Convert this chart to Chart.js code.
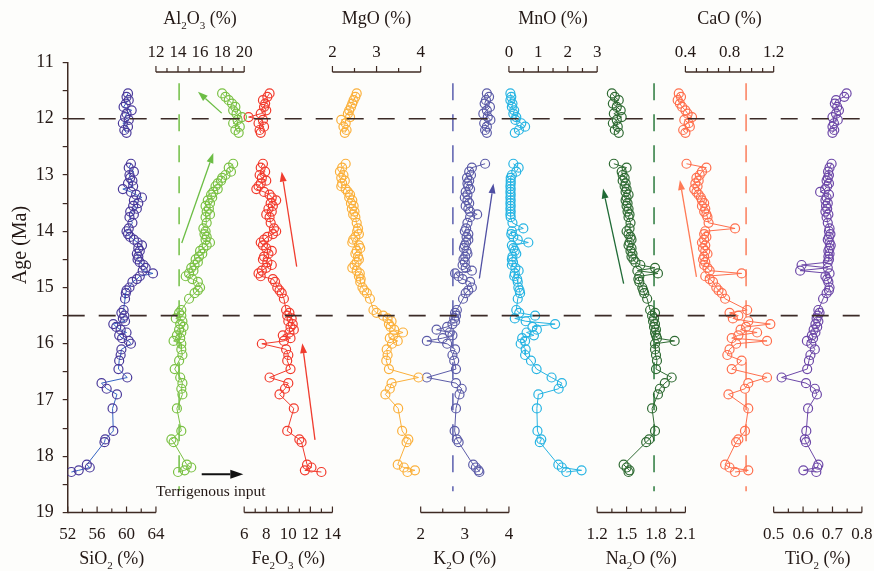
<!DOCTYPE html>
<html><head><meta charset="utf-8">
<script src="https://cdn.jsdelivr.net/npm/chart.js@4.4.1/dist/chart.umd.min.js"></script>
<style>html,body{margin:0;padding:0;background:#fdfdfb;}canvas{display:block;}</style>
</head><body>
<canvas id="c" width="874" height="571"></canvas>
<script>
// ---------- data ----------
const ageUpper = [11.55,11.61,11.67,11.73,11.79,11.85,11.91,11.97,12.02,12.08,12.14,12.20,12.25];
const ageLower = [12.80,12.87,12.94,13.00,13.05,13.10,13.15,13.20,13.25,13.30,
 13.35,13.40,13.45,13.50,13.55,13.60,13.65,13.70,13.75,13.85,
 13.95,14.00,14.05,14.10,14.15,14.20,14.25,14.30,14.35,14.40,
 14.45,14.50,14.55,14.60,14.65,14.70,14.75,14.80,14.85,14.90,
 15.00,15.05,15.10,15.20,15.40,15.45,15.50,15.55,15.60,15.65,
 15.70,15.75,15.80,15.85,15.90,15.95,16.00,16.10,16.20,16.30,
 16.45,16.60,16.70,16.80,16.90,17.15,17.55,17.70,17.75,18.15,
 18.20,18.25,18.28];

const sio2Upper = [60.2,60.0,60.3,59.9,59.6,60.7,60.0,59.8,60.3,59.5,60.2,59.7,60.0];
const sio2Lower = [60.6,60.3,61.0,60.4,60.5,60.8,60.2,60.9,59.5,60.6,
 61.3,62.1,61.0,61.6,60.9,61.4,60.5,61.0,60.4,60.8,
 60.3,60.0,60.2,60.5,61.0,61.5,62.1,61.6,61.8,61.4,
 61.6,61.5,61.8,62.3,62.6,62.2,63.6,61.8,61.4,60.8,
 60.4,60.0,59.9,59.8,59.6,59.3,59.7,59.5,59.8,58.2,
 58.6,59.2,60.0,59.0,59.4,60.3,60.6,59.3,59.2,59.0,
 58.9,60.1,56.6,57.3,58.7,58.1,58.2,57.1,57.0,54.6,
 55.0,53.5,52.5];

const al2o3Upper = [18.0,18.3,18.6,18.9,19.2,19.0,19.3,19.8,19.4,19.0,19.6,19.2,19.5];
const al2o3Lower = [19.0,18.6,18.8,18.3,18.0,17.9,17.6,17.4,17.6,17.2,
 17.0,17.1,16.7,16.9,16.5,16.8,16.6,16.9,16.5,16.6,
 16.3,16.5,16.4,16.6,16.5,16.9,16.6,16.3,16.0,16.2,
 15.9,15.6,15.8,15.5,15.2,15.4,15.0,14.7,15.3,15.8,
 16.0,15.8,15.5,15.0,14.3,14.1,14.3,13.8,14.4,14.2,
 14.5,14.1,14.3,13.9,14.2,13.6,14.3,14.3,14.4,14.1,
 13.7,14.2,14.4,14.3,14.4,13.9,14.3,13.4,13.6,14.8,
 15.2,14.6,14.0];

const fe2o3Upper = [8.3,8.1,7.7,7.9,7.8,8.0,7.5,6.4,7.7,7.3,7.8,7.4,7.5];
const fe2o3Lower = [7.7,7.5,7.9,7.4,7.6,8.0,7.5,7.3,7.1,7.8,
 8.3,8.5,8.9,8.4,8.6,8.2,8.5,8.0,8.3,8.4,
 8.7,8.9,8.6,8.1,7.8,7.5,7.7,8.0,8.5,8.2,
 7.8,7.7,8.1,8.5,8.0,7.6,7.3,7.5,8.6,8.8,
 9.0,9.2,9.4,9.6,9.8,10.1,9.9,10.3,10.0,10.4,
 10.2,10.5,10.1,9.5,10.2,9.6,7.6,9.8,10.0,9.9,
 10.2,8.3,10.0,9.7,9.2,10.5,9.9,11.0,11.2,11.7,
 12.1,11.5,13.0];

const mgoUpper = [2.55,2.52,2.48,2.45,2.42,2.38,2.35,2.40,2.20,2.30,2.25,2.32,2.28];
const mgoLower = [2.30,2.22,2.17,2.25,2.20,2.28,2.22,2.20,2.30,2.35,
 2.40,2.38,2.45,2.42,2.48,2.44,2.50,2.47,2.52,2.55,
 2.58,2.56,2.60,2.52,2.47,2.45,2.60,2.63,2.55,2.52,
 2.58,2.60,2.55,2.50,2.45,2.55,2.62,2.60,2.64,2.63,
 2.68,2.72,2.78,2.85,2.93,3.00,3.15,3.25,3.34,3.28,
 3.32,3.40,3.60,3.38,3.30,3.48,3.35,3.23,3.25,3.22,
 3.28,3.95,3.34,3.30,3.20,3.49,3.58,3.72,3.68,3.48,
 3.62,3.87,3.70];

const k2oUpper = [3.50,3.55,3.48,3.45,3.57,3.50,3.42,3.52,3.58,3.44,3.50,3.46,3.50];
const k2oLower = [3.46,3.16,3.10,3.14,3.05,3.10,3.06,3.08,3.12,3.02,
 3.06,3.00,3.06,3.10,3.02,3.08,3.12,3.28,3.12,3.06,
 3.03,3.00,3.08,3.04,3.08,3.03,3.00,2.98,3.04,3.06,
 3.01,2.97,3.00,2.95,3.02,3.16,2.78,2.86,2.95,3.12,
 3.16,3.08,3.02,2.96,2.82,2.78,2.80,2.76,2.78,2.72,
 2.60,2.36,2.66,2.72,2.50,2.14,2.60,2.78,2.72,2.76,
 2.80,2.14,2.80,2.93,2.88,2.80,2.77,2.82,2.86,3.19,
 3.25,3.31,3.33];

const mnoUpper = [0.05,0.08,0.05,0.12,0.10,0.18,0.15,0.25,0.22,0.42,0.55,0.34,0.20];
const mnoLower = [0.15,0.33,0.25,0.10,0.06,0.06,0.06,0.05,0.06,0.05,
 0.06,0.05,0.06,0.05,0.06,0.05,0.06,0.05,0.06,0.12,
 0.49,0.10,0.08,0.15,0.30,0.66,0.10,0.15,0.20,0.25,
 0.12,0.10,0.14,0.10,0.22,0.33,0.20,0.18,0.28,0.30,
 0.32,0.36,0.38,0.30,0.25,0.35,0.89,0.20,0.57,1.57,
 0.80,0.95,0.60,0.85,0.45,0.55,0.40,0.57,0.55,0.75,
 0.94,1.45,1.80,1.69,1.00,0.95,0.97,1.10,1.05,1.68,
 1.80,2.47,1.95];

const na2oUpper = [1.35,1.38,1.42,1.36,1.40,1.44,1.37,1.45,1.40,1.36,1.41,1.38,1.42];
const na2oLower = [1.37,1.50,1.45,1.46,1.48,1.46,1.49,1.48,1.50,1.49,
 1.52,1.50,1.49,1.51,1.50,1.52,1.51,1.53,1.52,1.54,
 1.53,1.50,1.52,1.54,1.55,1.53,1.52,1.55,1.54,1.56,
 1.55,1.57,1.59,1.64,1.79,1.61,1.82,1.63,1.62,1.63,
 1.66,1.67,1.68,1.71,1.74,1.79,1.76,1.78,1.77,1.79,
 1.78,1.80,1.79,1.80,1.81,1.99,1.79,1.79,1.80,1.81,
 1.80,1.96,1.89,1.84,1.82,1.76,1.79,1.73,1.70,1.47,
 1.50,1.53,1.52];

const caoUpper = [0.34,0.36,0.33,0.35,0.37,0.40,0.42,0.46,0.39,0.43,0.44,0.38,0.40];
const caoLower = [0.41,0.59,0.55,0.53,0.50,0.52,0.49,0.51,0.48,0.50,
 0.52,0.54,0.55,0.57,0.55,0.58,0.57,0.59,0.60,0.61,
 0.85,0.58,0.57,0.59,0.57,0.55,0.58,0.56,0.58,0.60,
 0.57,0.56,0.58,0.57,0.60,0.62,0.91,0.58,0.62,0.65,
 0.68,0.70,0.73,0.76,0.96,0.80,0.88,0.83,0.97,1.17,
 0.95,0.90,1.05,0.88,0.82,1.14,0.86,0.80,0.78,0.91,
 0.82,1.14,0.97,0.94,0.79,0.97,0.94,0.88,0.86,0.76,
 0.80,0.97,0.85];

const tio2Upper = [0.748,0.740,0.712,0.708,0.716,0.722,0.712,0.700,0.718,0.705,0.700,0.706,0.700];
const tio2Lower = [0.697,0.690,0.685,0.688,0.684,0.680,0.688,0.682,0.675,0.658,
 0.688,0.680,0.676,0.684,0.678,0.682,0.676,0.686,0.680,0.684,
 0.690,0.688,0.693,0.688,0.684,0.690,0.694,0.690,0.686,0.690,
 0.686,0.688,0.684,0.595,0.684,0.590,0.690,0.676,0.682,0.686,
 0.690,0.688,0.680,0.668,0.652,0.656,0.650,0.646,0.652,0.642,
 0.648,0.636,0.642,0.630,0.634,0.613,0.628,0.640,0.625,0.620,
 0.614,0.527,0.610,0.640,0.647,0.617,0.611,0.606,0.610,0.652,
 0.648,0.601,0.645];

// tick labels of each oxide axis
const sio2Ticks = [52,56,60,64];
const al2o3Ticks = [12,14,16,18,20];
const fe2o3Ticks = [6,8,10,12,14];
const mgoTicks = [2,3,4];
const k2oTicks = [2,3,4];
const mnoTicks = [0,1,2,3];
const na2oTicks = [1.2,1.5,1.8,2.1];
const caoTicks = [0.4,0.8,1.2];
const tio2Ticks = [0.5,0.6,0.7,0.8];
const ageTicks = [11,12,13,14,15,16,17,18,19];

// boundaries (Ma) and reference values
const boundaryAges = [12, 15.5];
const refLines = [['al2o3',14.1],['k2o',2.73],['na2o',1.78],['cao',0.95]];
const trendArrows = [
  ['al2o3',17.96,11.90,15.81,11.52],
  ['al2o3',14.34,14.21,17.20,12.61],
  ['fe2o3',10.76,14.63,9.40,12.94],
  ['fe2o3',12.42,17.71,11.27,15.99],
  ['k2o',3.33,14.84,3.65,13.15],
  ['na2o',1.47,14.93,1.26,13.24],
  ['cao',0.50,14.81,0.35,13.09]
];
const inputArrow = ['al2o3',16.15,18.32,19.92,18.32];
const inputLabel = ['al2o3',16.97,18.64,'Terrigenous input'];

// ---------- panel configuration ----------
const panels = [
  {key:'sio2', title:'SiO2 (%)', up:sio2Upper, low:sio2Lower, ticks:sio2Ticks, lo:52, hi:64, minor:2, side:'bottom', color:'#4a3a9b', line:'#3564c4'},
  {key:'al2o3', title:'Al2O3 (%)', up:al2o3Upper, low:al2o3Lower, ticks:al2o3Ticks, lo:12, hi:20, minor:1, side:'top', color:'#7ac143'},
  {key:'fe2o3', title:'Fe2O3 (%)', up:fe2o3Upper, low:fe2o3Lower, ticks:fe2o3Ticks, lo:6, hi:14, minor:1, side:'bottom', color:'#f23a2c'},
  {key:'mgo', title:'MgO (%)', up:mgoUpper, low:mgoLower, ticks:mgoTicks, lo:2, hi:4, minor:0.5, side:'top', color:'#fbb03b'},
  {key:'k2o', title:'K2O (%)', up:k2oUpper, low:k2oLower, ticks:k2oTicks, lo:2, hi:4, minor:0.5, side:'bottom', color:'#5c5ca8'},
  {key:'mno', title:'MnO (%)', up:mnoUpper, low:mnoLower, ticks:mnoTicks, lo:0, hi:3, minor:0.5, side:'top', color:'#27b4e3'},
  {key:'na2o', title:'Na2O (%)', up:na2oUpper, low:na2oLower, ticks:na2oTicks, lo:1.2, hi:2.1, minor:0.15, side:'bottom', color:'#2f6b33'},
  {key:'cao', title:'CaO (%)', up:caoUpper, low:caoLower, ticks:caoTicks, lo:0.4, hi:1.2, minor:0.1, side:'top', color:'#ff6f4d'},
  {key:'tio2', title:'TiO2 (%)', up:tio2Upper, low:tio2Lower, ticks:tio2Ticks, lo:0.5, hi:0.8, minor:0.05, side:'bottom', color:'#6d48a8'}
];
const refColors = {al2o3:'#72bf44', k2o:'#5b5fae', na2o:'#2b7a3d', cao:'#fb7d5b'};
const arrowColors = {al2o3:'#6cbd45', fe2o3:'#f03c2e', k2o:'#4f4fa3', na2o:'#1f6a35', cao:'#ff7a55'};
const INK = '#231815', AXIS = '#3e2a23', SERIF = "'Liberation Serif','Times New Roman',serif";
const N = panels.length;

const scales = {
  y: {
    type:'linear', position:'left', reverse:true, min:11, max:19,
    afterFit: s => { s.width = 67.7; },
    ticks:{ stepSize:0.5, autoSkip:false, padding:9, color:INK, font:{family:SERIF, size:18},
      callback: v => ageTicks.includes(v) ? String(v) : '' },
    grid:{ drawOnChartArea:false, drawTicks:true, tickLength:5, color:AXIS, lineWidth:1.2 },
    border:{ display:true, color:AXIS, width:1.5 }
  }
};
panels.forEach((p,k) => {
  const w = p.hi - p.lo;
  scales['x'+k] = { type:'linear', display:false, bounds:'data', min:p.lo - k*w, max:p.hi + (N-1-k)*w };
});

const datasets = panels.map((p,k) => ({
  label: p.title,
  xAxisID: 'x'+k, yAxisID: 'y',
  data: [...p.up.map((v,i)=>({x:v, y:ageUpper[i]})), {x:null, y:null}, ...p.low.map((v,i)=>({x:v, y:ageLower[i]}))],
  showLine: true, spanGaps: false, fill: false, tension: 0,
  borderColor: p.line || p.color, borderWidth: 1,
  pointStyle: 'circle', pointRadius: 4.5, pointBorderWidth: 1.2,
  pointBorderColor: p.color, pointBackgroundColor: 'rgba(0,0,0,0)', backgroundColor: 'rgba(0,0,0,0)'
}));

function scaleOf(chart, key){ return chart.scales['x' + panels.findIndex(p => p.key === key)]; }

function drawFormula(ctx, text, cx, baseline, size){
  const segs = []; let inF = true;
  for (const ch of text){
    if (ch === ' ') inF = false;
    const sub = inF && /[0-9]/.test(ch);
    if (segs.length && segs[segs.length-1].sub === sub) segs[segs.length-1].t += ch;
    else segs.push({t:ch, sub});
  }
  const fnt = s => (s ? Math.round(size*0.62) : size) + 'px ' + SERIF;
  let total = 0;
  segs.forEach(s => { ctx.font = fnt(s.sub); s.w = ctx.measureText(s.t).width; total += s.w; });
  let x = cx - total/2;
  ctx.textAlign = 'left'; ctx.textBaseline = 'alphabetic';
  segs.forEach(s => { ctx.font = fnt(s.sub); ctx.fillText(s.t, x, baseline + (s.sub ? size*0.28 : 0)); x += s.w; });
}

function arrow(ctx, x1, y1, x2, y2, color, lw, hl, hw){
  const a = Math.atan2(y2-y1, x2-x1);
  const bx = x2 - hl*Math.cos(a), by = y2 - hl*Math.sin(a);
  ctx.save(); ctx.strokeStyle = color; ctx.fillStyle = color; ctx.lineWidth = lw; ctx.setLineDash([]);
  ctx.beginPath(); ctx.moveTo(x1,y1); ctx.lineTo(bx,by); ctx.stroke();
  ctx.beginPath(); ctx.moveTo(x2,y2);
  ctx.lineTo(bx + hw/2*Math.sin(a), by - hw/2*Math.cos(a));
  ctx.lineTo(bx - hw/2*Math.sin(a), by + hw/2*Math.cos(a));
  ctx.closePath(); ctx.fill(); ctx.restore();
}

const decor = {
  id:'decor',
  beforeDraw(chart){
    const c = chart.ctx; c.save(); c.fillStyle = '#fdfdfb'; c.fillRect(0,0,chart.width,chart.height); c.restore();
  },
  beforeDatasetsDraw(chart){
    const ctx = chart.ctx, ys = chart.scales.y;
    // vertical reference lines
    refLines.forEach(([key, v]) => {
      const x = scaleOf(chart, key).getPixelForValue(v);
      ctx.save(); ctx.strokeStyle = refColors[key]; ctx.lineWidth = 1.5; ctx.setLineDash([17,14]);
      ctx.beginPath(); ctx.moveTo(x, ys.getPixelForValue(11.37)); ctx.lineTo(x, ys.getPixelForValue(18.62)); ctx.stroke(); ctx.restore();
    });
  },
  afterDatasetsDraw(chart){
    const ctx = chart.ctx, ys = chart.scales.y, area = chart.chartArea;
    // boundary dashed lines
    boundaryAges.forEach(a => {
      const y = ys.getPixelForValue(a);
      ctx.save(); ctx.strokeStyle = '#3b2a26'; ctx.lineWidth = 1.6; ctx.setLineDash([17,14]);
      ctx.beginPath(); ctx.moveTo(area.left, y); ctx.lineTo(872, y); ctx.stroke(); ctx.restore();
    });
    // trend arrows
    trendArrows.forEach(([key, v1, a1, v2, a2]) => {
      const s = scaleOf(chart, key);
      arrow(ctx, s.getPixelForValue(v1), ys.getPixelForValue(a1), s.getPixelForValue(v2), ys.getPixelForValue(a2), arrowColors[key], 1.3, 10, 7);
    });
    {
      const [key, v1, a1, v2, a2] = inputArrow; const s = scaleOf(chart, key);
      arrow(ctx, s.getPixelForValue(v1), ys.getPixelForValue(a1), s.getPixelForValue(v2), ys.getPixelForValue(a2), '#111', 2, 13, 9);
      const [k2, v, a, txt] = inputLabel; const s2 = scaleOf(chart, k2);
      ctx.save(); ctx.fillStyle = INK; ctx.font = '15.5px ' + SERIF; ctx.textAlign = 'center'; ctx.textBaseline = 'middle';
      ctx.fillText(txt, s2.getPixelForValue(v), ys.getPixelForValue(a)); ctx.restore();
    }
  },
  afterDraw(chart){
    const ctx = chart.ctx, area = chart.chartArea;
    const yTitle = ys => ys;
    panels.forEach((p,k) => {
      const s = chart.scales['x'+k];
      const bottom = p.side === 'bottom';
      const yl = bottom ? area.bottom : area.top + 9.5;
      const x0 = s.getPixelForValue(p.lo), x1 = s.getPixelForValue(p.hi);
      ctx.save(); ctx.strokeStyle = AXIS; ctx.lineWidth = 1.4;
      ctx.beginPath(); ctx.moveTo(x0, yl); ctx.lineTo(x1, yl); ctx.stroke();
      const n = Math.round((p.hi - p.lo)/p.minor);
      ctx.lineWidth = 1.2;
      for (let i = 0; i <= n; i++){
        const v = p.lo + i*p.minor;
        const major = p.ticks.some(t => Math.abs(t - v) < 1e-6) || i === 0 || i === n;
        const x = s.getPixelForValue(v);
        ctx.beginPath(); ctx.moveTo(x, yl); ctx.lineTo(x, yl - (major ? 6 : 4)); ctx.stroke();
      }
      ctx.fillStyle = INK; ctx.font = '17px ' + SERIF; ctx.textAlign = 'center'; ctx.textBaseline = 'alphabetic';
      p.ticks.forEach(t => ctx.fillText(String(t), s.getPixelForValue(t), bottom ? 539 : 57));
      drawFormula(ctx, p.title, (x0 + x1)/2, bottom ? 564 : 24, 18);
      ctx.restore();
    });
    // y axis title
    ctx.save(); ctx.fillStyle = INK; ctx.font = '20px ' + SERIF; ctx.textAlign = 'center'; ctx.textBaseline = 'middle';
    ctx.translate(21, 245); ctx.rotate(-Math.PI/2); ctx.fillText('Age (Ma)', 0, 0); ctx.restore();
  }
};

new Chart(document.getElementById('c'), {
  type: 'scatter',
  data: { datasets },
  options: {
    responsive:false, animation:false, devicePixelRatio:1,
    layout:{ padding:{ left:0, right:12.1, top:62.5, bottom:58.5 } },
    plugins:{ legend:{display:false}, tooltip:{enabled:false} },
    scales
  },
  plugins:[decor]
});
</script>
</body></html>
